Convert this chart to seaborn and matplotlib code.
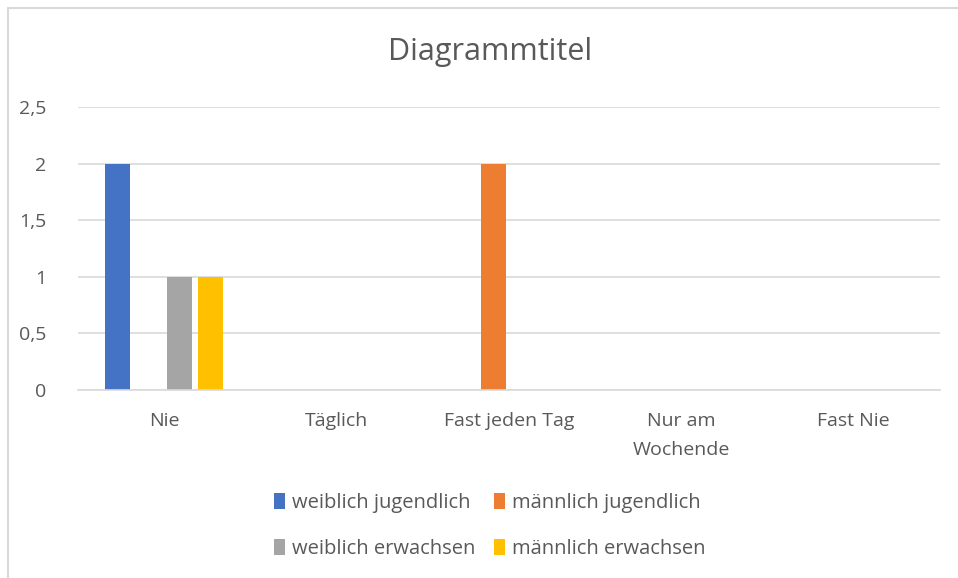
import matplotlib
matplotlib.use("Agg")
import matplotlib.pyplot as plt
import seaborn as sns
import pandas as pd
from matplotlib.patches import Patch
from matplotlib.lines import Line2D

categories = ["Nie", "Täglich", "Fast jeden Tag", "Nur am\nWochende", "Fast Nie"]
series = ["weiblich jugendlich", "männlich jugendlich", "weiblich erwachsen", "männlich erwachsen"]
weiblich_jugendlich = [2, 0, 0, 0, 0]
maennlich_jugendlich = [0, 0, 2, 0, 0]
weiblich_erwachsen = [1, 0, 0, 0, 0]
maennlich_erwachsen = [1, 0, 0, 0, 0]
colors = ["#4472C4", "#ED7D31", "#A5A5A5", "#FFC000"]
yticks = [0, 0.5, 1, 1.5, 2, 2.5]
yticklabels = ["0", "0,5", "1", "1,5", "2", "2,5"]

values = [weiblich_jugendlich, maennlich_jugendlich, weiblich_erwachsen, maennlich_erwachsen]
rows = []
for s, vals in zip(series, values):
    for c, v in zip(categories, vals):
        rows.append({"Kategorie": c, "Serie": s, "Wert": v})
df = pd.DataFrame(rows)

sns.set_style("white")
plt.rcParams["font.family"] = ["Open Sans", "DejaVu Sans"]
text_color = "#595959"

fig = plt.figure(figsize=(9.58, 5.78), dpi=100)
ax = fig.add_axes([78/958, 1-390/578, (940-78)/958, (390-107)/578])

sns.barplot(data=df, x="Kategorie", y="Wert", hue="Serie", order=categories,
            hue_order=series, palette=colors, width=0.72, gap=0.2,
            saturation=1, ax=ax, legend=False, linewidth=0)

ax.set_ylim(0, 2.5)
ax.set_xlim(-0.5, len(categories) - 0.5)
ax.set_yticks(yticks)
ax.set_yticklabels(yticklabels)
ax.yaxis.grid(True, color="#D9D9D9", linewidth=1.2)
ax.set_axisbelow(True)
for sp in ["top", "right", "left"]:
    ax.spines[sp].set_visible(False)
ax.spines["bottom"].set_color("#D9D9D9")
ax.spines["bottom"].set_linewidth(1.2)
ax.tick_params(axis="both", length=0, colors=text_color, labelsize=14)
ax.tick_params(axis="x", pad=16)
ax.tick_params(axis="y", pad=23)
for lbl in ax.get_xticklabels():
    lbl.set_linespacing(1.75)
ax.set_xlabel("")
ax.set_ylabel("")

fig.text(490/958, 1-52/578, "Diagrammtitel", ha="center", va="center",
         fontsize=22, color=text_color)

# legend filled column-major: reorder so rows read wj, mj / we, me
order = [0, 2, 1, 3]
handles = [Patch(facecolor=colors[i], edgecolor="none") for i in order]
labels = [series[i] for i in order]
leg = fig.legend(handles, labels, loc="center", bbox_to_anchor=(490/958, 1-526/578),
                 ncol=2, frameon=False, fontsize=14.5, labelcolor=text_color,
                 handlelength=0.55, handleheight=0.85, handletextpad=0.35,
                 columnspacing=0.9, labelspacing=1.25)

fig.add_artist(Line2D([8/958, 8/958], [0, 1-8/578], transform=fig.transFigure,
                      color="#D9D9D9", linewidth=1.5))
fig.add_artist(Line2D([8/958, 1], [1-8/578, 1-8/578], transform=fig.transFigure,
                      color="#D9D9D9", linewidth=1.5))

fig.savefig("out.png", dpi=100)
